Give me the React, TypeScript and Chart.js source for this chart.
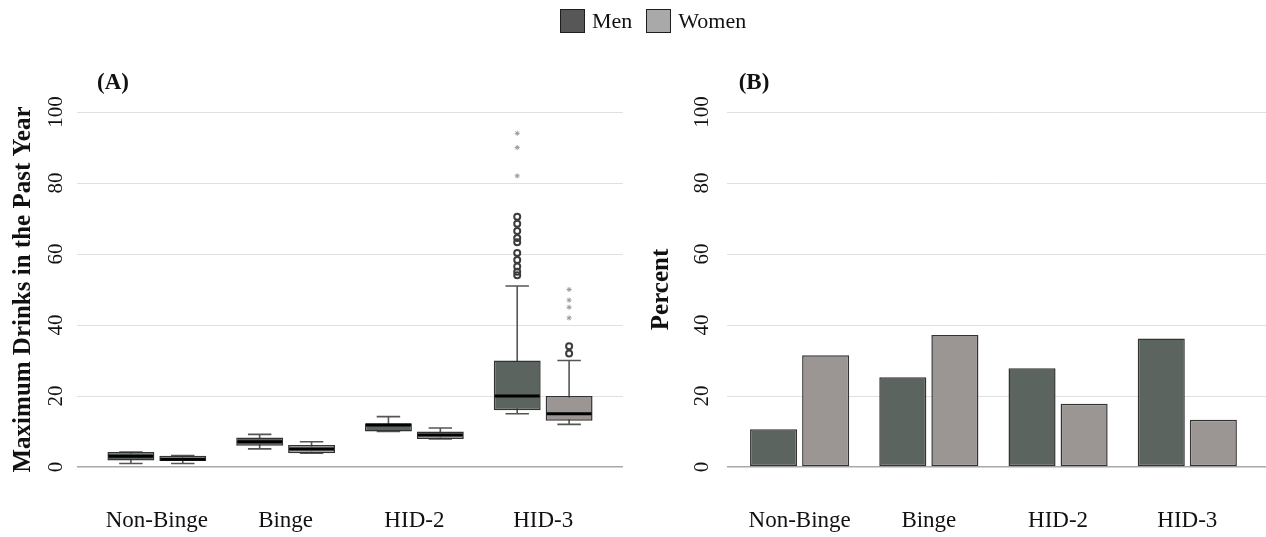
import React, { useEffect, useRef } from 'react';
import { Chart, registerables } from 'chart.js';

Chart.register(...registerables);

// ---------- data ----------
const categories = ['Non-Binge', 'Binge', 'HID-2', 'HID-3'];
const yTickValues = [0, 20, 40, 60, 80, 100];

// Panel A: box plot statistics (max drinks in past year)
const menWhiskerLow = [1, 5.1, 10, 15];
const menQ1 = [1.8, 6, 10, 16];
const menMedian = [3, 7.1, 11.8, 20];
const menQ3 = [4.2, 8.3, 12.3, 30];
const menWhiskerHigh = [4.2, 9.2, 14.2, 51];

const womenWhiskerLow = [1, 3.9, 7.9, 12];
const womenQ1 = [1.7, 3.9, 7.9, 13];
const womenMedian = [2.2, 5.1, 9, 15];
const womenQ3 = [3.2, 6.2, 10, 20];
const womenWhiskerHigh = [3.2, 7.1, 11, 30];

const outlierCategory = 'HID-3';
const menCircleOutliers = [70.5, 68.5, 66.5, 64.5, 63.3, 60.3, 58.3, 56.5, 55, 54];
const menStarOutliers = [94, 90, 82];
const womenCircleOutliers = [34, 32];
const womenStarOutliers = [50, 47, 45, 42];

// Panel B: percent
const menPercent = [10.6, 25.3, 27.8, 36.2];
const womenPercent = [31.5, 37.2, 17.8, 13.3];

// ---------- styles ----------
const FONT = '"Liberation Serif", "Times New Roman", Times, serif';
const MEN_FILL = '#5b645f';
const WOMEN_FILL = '#9b9593';
const BAR_BORDER = '#333333';
const CAT_PCT = 0.806;
const BAR_PCT = 0.904;
const GROUP_OFFSET = CAT_PCT / 4;

const W = 1266;
const H = 537;

function yAxis(title: string, titlePad: number, tickPad: number, width: number) {
  return {
    type: 'linear',
    min: 0,
    max: 100,
    afterBuildTicks: (s: any) => {
      s.ticks = yTickValues.map((v) => ({ value: v }));
    },
    ticks: {
      minRotation: 90,
      maxRotation: 90,
      crossAlign: 'center',
      padding: tickPad,
      color: '#111',
      font: { family: FONT, size: 21 },
    },
    grid: {
      drawTicks: false,
      color: (c: any) => (c.tick && c.tick.value === 0 ? '#a8a8a8' : '#e0e0e0'),
      lineWidth: (c: any) => (c.tick && c.tick.value === 0 ? 1.5 : 1),
    },
    border: { display: false },
    title: {
      display: true,
      text: title,
      color: '#111',
      font: { family: FONT, size: 25, weight: 'bold', lineHeight: 1.2 },
      padding: { top: titlePad, bottom: 0 },
    },
    afterFit: (s: any) => {
      s.width = width;
    },
  };
}

function xAxis(min: number, max: number) {
  return {
    type: 'linear',
    offset: false,
    min,
    max,
    afterBuildTicks: (s: any) => {
      s.ticks = categories.map((_, i) => ({ value: i }));
    },
    ticks: {
      callback: (v: any) => categories[v],
      color: '#111',
      padding: 40,
      maxRotation: 0,
      autoSkip: false,
      font: { family: FONT, size: 23 },
    },
    grid: { display: false, drawTicks: false, offset: false },
    border: { display: false },
    afterFit: (s: any) => {
      s.height = 70;
    },
  };
}

function panelLabel(text: string, x: number, y: number) {
  return {
    id: 'panelLabel' + text,
    afterDraw(chart: any) {
      const ctx = chart.ctx;
      ctx.save();
      ctx.font = `bold 23px ${FONT}`;
      ctx.fillStyle = '#111';
      ctx.textAlign = 'center';
      ctx.textBaseline = 'middle';
      ctx.fillText(text, x, y);
      ctx.restore();
    },
  };
}

const boxPlotPlugin = {
  id: 'boxParts',
  beforeDatasetsDraw(chart: any) {
    const ys = chart.scales.y;
    const ctx = chart.ctx;
    const groups: any[] = [
      [0, menWhiskerLow, menWhiskerHigh],
      [1, womenWhiskerLow, womenWhiskerHigh],
    ];
    ctx.save();
    ctx.strokeStyle = '#555';
    ctx.lineWidth = 1.6;
    groups.forEach(([di, lo, hi]) => {
      const meta = chart.getDatasetMeta(di);
      meta.data.forEach((bar: any, i: number) => {
        const x = bar.x;
        const cw = bar.width / 2;
        const yl = ys.getPixelForValue(lo[i]);
        const yh = ys.getPixelForValue(hi[i]);
        ctx.beginPath();
        ctx.moveTo(x, yl);
        ctx.lineTo(x, yh);
        ctx.moveTo(x - cw / 2, yl);
        ctx.lineTo(x + cw / 2, yl);
        ctx.moveTo(x - cw / 2, yh);
        ctx.lineTo(x + cw / 2, yh);
        ctx.stroke();
      });
    });
    ctx.restore();
  },
  afterDatasetsDraw(chart: any) {
    const ys = chart.scales.y;
    const ctx = chart.ctx;
    const groups: any[] = [
      [0, menMedian],
      [1, womenMedian],
    ];
    ctx.save();
    ctx.strokeStyle = '#000';
    ctx.lineWidth = 3;
    groups.forEach(([di, med]) => {
      const meta = chart.getDatasetMeta(di);
      meta.data.forEach((bar: any, i: number) => {
        const y = ys.getPixelForValue(med[i]);
        ctx.beginPath();
        ctx.moveTo(bar.x - bar.width / 2 + 1, y);
        ctx.lineTo(bar.x + bar.width / 2 - 1, y);
        ctx.stroke();
      });
    });
    ctx.restore();
  },
};

export default function App() {
  const refA = useRef<HTMLCanvasElement | null>(null);
  const refB = useRef<HTMLCanvasElement | null>(null);

  useEffect(() => {
    const oi = categories.indexOf(outlierCategory);
    const boxDs = (label: string, q1: number[], q3: number[], fill: string) => ({
      type: 'bar',
      label,
      data: categories.map((_, i) => ({ x: i, y: [q1[i], q3[i]] })),
      backgroundColor: fill,
      borderColor: BAR_BORDER,
      borderWidth: 1.5,
      borderSkipped: false,
      categoryPercentage: CAT_PCT,
      barPercentage: BAR_PCT,
    });
    const pts = (vals: number[], x: number, style: string) => ({
      type: 'scatter',
      data: vals.map((v) => ({ x, y: v })),
      pointStyle: style,
      radius: style === 'star' ? 2.5 : 3,
      borderWidth: style === 'star' ? 1 : 2,
      borderColor: style === 'star' ? '#9a9a9a' : '#3c3c3c',
      backgroundColor: style === 'star' ? '#9a9a9a' : 'rgba(255,255,255,0)',
    });

    const chartA = new Chart(refA.current as HTMLCanvasElement, {
      type: 'bar',
      data: {
        datasets: [
          boxDs('Men', menQ1, menQ3, MEN_FILL),
          boxDs('Women', womenQ1, womenQ3, WOMEN_FILL),
          pts(menCircleOutliers, oi - GROUP_OFFSET, 'circle'),
          pts(menStarOutliers, oi - GROUP_OFFSET, 'star'),
          pts(womenCircleOutliers, oi + GROUP_OFFSET, 'circle'),
          pts(womenStarOutliers, oi + GROUP_OFFSET, 'star'),
        ] as any,
      },
      options: {
        animation: false,
        responsive: false,
        layout: { padding: { top: 112, left: 0, right: 17, bottom: 0 } },
        plugins: { legend: { display: false }, tooltip: { enabled: false } },
        scales: {
          x: xAxis(-0.62, 3.62) as any,
          y: yAxis('Maximum Drinks in the Past Year', 9, 5, 77) as any,
        },
      },
      plugins: [boxPlotPlugin, panelLabel('(A)', 113, 83)],
    } as any);

    const barDs = (label: string, vals: number[], fill: string) => ({
      type: 'bar',
      label,
      data: categories.map((_, i) => ({ x: i, y: vals[i] })),
      backgroundColor: fill,
      borderColor: BAR_BORDER,
      borderWidth: 1.5,
      borderSkipped: false,
      categoryPercentage: CAT_PCT,
      barPercentage: BAR_PCT,
    });

    const chartB = new Chart(refB.current as HTMLCanvasElement, {
      type: 'bar',
      data: {
        datasets: [
          barDs('Men', menPercent, MEN_FILL),
          barDs('Women', womenPercent, WOMEN_FILL),
        ] as any,
      },
      options: {
        animation: false,
        responsive: false,
        layout: { padding: { top: 112, left: 0, right: 0, bottom: 0 } },
        plugins: { legend: { display: false }, tooltip: { enabled: false } },
        scales: {
          x: xAxis(-0.562, 3.609) as any,
          y: yAxis('Percent', 7, 9, 87) as any,
        },
      },
      plugins: [panelLabel('(B)', 114, 83)],
    } as any);

    return () => {
      chartA.destroy();
      chartB.destroy();
    };
  }, []);

  const swatch = (bg: string) => ({
    display: 'inline-block',
    width: 25,
    height: 24,
    background: bg,
    border: '1.5px solid #1e1e1e',
    boxSizing: 'border-box' as const,
  });

  return (
    <div style={{ position: 'fixed', left: 0, top: 0, width: W, height: H, background: '#fff', overflow: 'hidden' }}>
      <canvas ref={refA} width={640} height={H} style={{ position: 'absolute', left: 0, top: 0 }} />
      <canvas ref={refB} width={W - 640} height={H} style={{ position: 'absolute', left: 640, top: 0 }} />
      <div
        style={{
          position: 'absolute',
          left: 560,
          top: 9,
          height: 24,
          display: 'flex',
          alignItems: 'center',
          fontFamily: FONT,
          fontSize: 22,
          color: '#111',
          lineHeight: '24px',
        }}
      >
        <span style={swatch('#575757')} />
        <span style={{ marginLeft: 7 }}>Men</span>
        <span style={{ ...swatch('#a9a9a9'), marginLeft: 14 }} />
        <span style={{ marginLeft: 7 }}>Women</span>
      </div>
    </div>
  );
}
